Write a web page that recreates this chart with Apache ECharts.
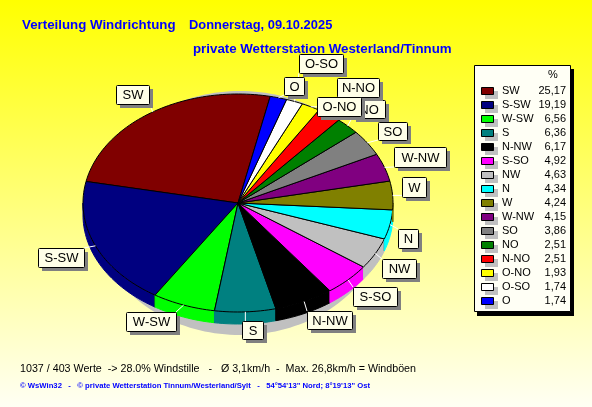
<!DOCTYPE html>
<html>
<head>
<meta charset="utf-8">
<style>html,body{margin:0;padding:0;background:#fff}#c{width:592px;height:407px}</style>
<script src="https://cdn.jsdelivr.net/npm/echarts@6/dist/echarts.min.js"></script>
</head>
<body>
<div id="c"></div>
<script>
const directions = ['SW','S-SW','W-SW','S','N-NW','S-SO','NW','N','W','W-NW','SO','NO','N-NO','O-NO','O-SO','O'];
const shares = [25.17,19.19,6.56,6.36,6.17,4.92,4.63,4.34,4.24,4.15,3.86,2.51,2.51,1.93,1.74,1.74];
const sliceColors = ['#800000','#000080','#00ff00','#008080','#000000','#ff00ff','#c0c0c0','#00ffff','#808000','#800080','#808080','#008000','#ff0000','#ffff00','#ffffff','#0000ff'];
const titleLeft = 'Verteilung Windrichtung';
const titleDate = 'Donnerstag, 09.10.2025';
const titleStation = 'private Wetterstation Westerland/Tinnum';
const footerStats = '1037 / 403 Werte  -> 28.0% Windstille   -   Ø 3,1km/h  -  Max. 26,8km/h = Windböen';
const footerCredit = '© WsWin32   -   © private Wetterstation Tinnum/Westerland/Sylt   -   54°54\'13" Nord; 8°19\'13" Ost';

// layout (separate from data)
const PIE = {cx:238, cy:203, rx:155, ry:109, depth:12, start:78};
const labelBoxes = {
  'SW':[116,85,33,19],'S-SW':[38,248,46,19],'W-SW':[126,312,50,19],'S':[242,321,21,18],
  'N-NW':[307,311,45,18],'S-SO':[353,287,44,19],'NW':[382,259,34,19],'N':[398,229,20,19],
  'W':[402,177,24,20],'W-NW':[394,147,52,20],'SO':[378,122,29,18],'NO':[352,100,33,18],
  'N-NO':[337,78,42,19],'O-NO':[317,97,44,19],'O-SO':[299,54,44,19],'O':[284,77,20,18]
};
const pt = (t, dy) => {
  const a = t*Math.PI/180;
  return [PIE.cx + PIE.rx*Math.cos(a), PIE.cy - PIE.ry*Math.sin(a) + (dy||0)];
};
const arc = (a, b, dy) => {
  const out = [];
  const n = Math.max(2, Math.ceil((b-a)/1.5));
  for (let i=0;i<=n;i++) out.push(pt(a+(b-a)*i/n, dy));
  return out;
};
const total = shares.reduce((s,v)=>s+v,0);
const angles = [];
{ let acc = PIE.start;
  shares.forEach(v => { const sw = v/total*360; angles.push([acc, acc+sw]); acc += sw; }); }

function renderSlice(params, api){
  const i = params.dataIndex;
  const [a,b] = angles[i];
  const fill = sliceColors[i];
  const children = [];
  const la = Math.max(a,180), lb = Math.min(b,360);
  if (lb > la) {
    const top = arc(la,lb,0), bottom = arc(la,lb,PIE.depth).reverse();
    children.push({type:'polygon',shape:{points:top.concat(bottom)},style:{fill:fill,stroke:fill,lineWidth:1}});
    if (b <= 360) children.push({type:'polyline',shape:{points:[pt(b,0),pt(b,PIE.depth)]},style:{stroke:'#000',lineWidth:1,fill:null}});
  }
  children.push({type:'polygon',shape:{points:[[PIE.cx,PIE.cy]].concat(arc(a,b,0))},style:{fill:fill,stroke:'#000',lineWidth:1}});
  return {type:'group',children:children};
}

function renderLabel(params, api){
  const i = params.dataIndex;
  const name = directions[i];
  const [x,y,w,h] = labelBoxes[name];
  const mid = (angles[i][0]+angles[i][1])/2;
  const s = pt(mid, 0);
  const ex = Math.min(Math.max(s[0],x),x+w), ey = Math.min(Math.max(s[1],y),y+h);
  return {type:'group',children:[
    {type:'polyline',shape:{points:[s,[ex,ey]]},style:{stroke:'#ffffff',lineWidth:1,fill:null}},
    {type:'rect',shape:{x:x+4,y:y+4,width:w,height:h},style:{fill:'#808080'}},
    {type:'rect',shape:{x:x+.5,y:y+.5,width:w,height:h,r:1},style:{fill:'#ffffe8',stroke:'#000',lineWidth:1}},
    {type:'text',style:{text:name,x:x+w/2+.5,y:y+h/2+1,align:'center',verticalAlign:'middle',font:'13px "Liberation Sans"',fill:'#000'}}
  ]};
}

function renderLegendRow(params, api){
  const i = params.dataIndex;
  const y = 91 + i*14;
  return {type:'group',children:[
    {type:'rect',shape:{x:485,y:y,width:13,height:8},style:{fill:'#c0c0c0'}},
    {type:'rect',shape:{x:481.5,y:y-3.5,width:12,height:7},style:{fill:sliceColors[i],stroke:'#000',lineWidth:1}},
    {type:'text',style:{text:directions[i],x:502,y:y,align:'left',verticalAlign:'middle',font:'11px "Liberation Sans"',fill:'#000'}},
    {type:'text',style:{text:shares[i].toFixed(2).replace('.',','),x:566,y:y,align:'right',verticalAlign:'middle',font:'11px "Liberation Sans"',fill:'#000'}}
  ]};
}

const bold = 'bold 13.3px "Liberation Sans"';
const graphicEls = [
  {type:'polygon',z:0,shape:{points:(()=>{const o=[];for(let t=0;t<360;t+=2){const a=t*Math.PI/180;o.push([240+146*Math.cos(a),213-122*Math.sin(a)]);}return o;})()},style:{fill:'#c0c0c0'}},
  {type:'text',z:0,style:{text:titleLeft,x:22,y:25,verticalAlign:'middle',font:bold,fill:'#0000ff'}},
  {type:'text',z:0,style:{text:titleDate,x:189,y:25,verticalAlign:'middle',font:'bold 12.9px "Liberation Sans"',fill:'#0000ff'}},
  {type:'text',z:0,style:{text:titleStation,x:193,y:49,verticalAlign:'middle',font:bold,fill:'#0000ff'}},
  {type:'text',z:0,style:{text:footerStats,x:20,y:369,verticalAlign:'middle',font:'10.7px "Liberation Sans"',fill:'#000'}},
  {type:'text',z:0,style:{text:footerCredit,x:20,y:386,verticalAlign:'middle',font:'bold 7.7px "Liberation Sans"',fill:'#0000ff'}},
  {type:'rect',z:0,shape:{x:477,y:69,width:97,height:247},style:{fill:'#000'}},
  {type:'rect',z:0,shape:{x:474.5,y:65.5,width:96,height:246},style:{fill:'#fffff5',stroke:'#000',lineWidth:1}},
  {type:'text',z:0,style:{text:'%',x:553,y:75,align:'center',verticalAlign:'middle',font:'11px "Liberation Sans"',fill:'#000'}}
];

const chart = echarts.init(document.getElementById('c'), null, {renderer:'canvas'});
chart.setOption({
  animation:false,
  backgroundColor:{type:'linear',x:0,y:0,x2:0,y2:1,colorStops:[{offset:0,color:'#ffff00'},{offset:1,color:'#fffff4'}]},
  graphic:{elements:graphicEls},
  series:[
    {type:'custom',name:'slices',coordinateSystem:'none',z:2,silent:true,data:shares,renderItem:renderSlice,clip:false},
    {type:'custom',name:'labels',coordinateSystem:'none',z:3,silent:true,data:shares,renderItem:renderLabel,clip:false},
    {type:'custom',name:'legend',coordinateSystem:'none',z:3,silent:true,data:shares,renderItem:renderLegendRow,clip:false}
  ]
});
</script>
</body>
</html>
